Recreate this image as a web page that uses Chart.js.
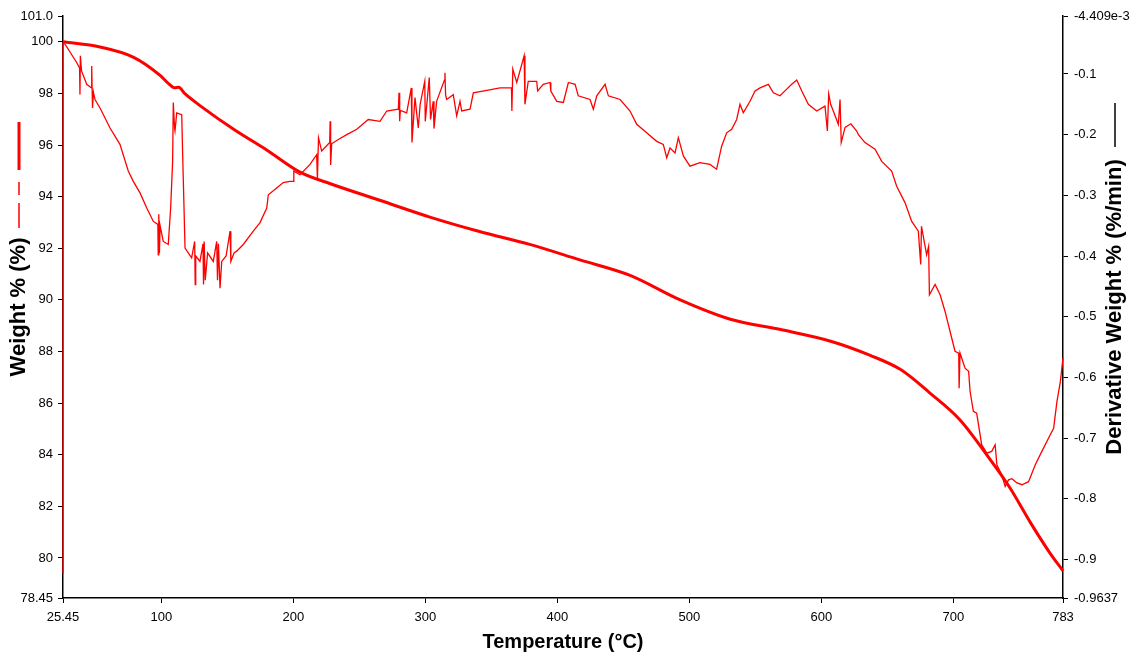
<!DOCTYPE html>
<html>
<head>
<meta charset="utf-8">
<title>TGA</title>
<script src="https://cdn.jsdelivr.net/npm/chart.js@4.4.1/dist/chart.umd.min.js"></script>
<style>
  body { margin: 0; background: #fff; }
  #tga { display: block; }
</style>
</head>
<body>
<canvas id="tga" width="1135" height="660"></canvas>
<script>
// ---- datos ----
const tempPeso = [25.45, 53.5, 79, 99, 105, 110, 113, 118, 130, 155, 180, 205, 228, 266, 304, 341, 379, 417, 455, 493, 531, 569, 607, 637, 660, 682, 705, 728, 743, 758, 773, 783];
const pesoPct = [100.0, 99.8, 99.4, 98.7, 98.4, 98.22, 98.24, 97.98, 97.5, 96.6, 95.8, 94.95, 94.5, 93.85, 93.2, 92.65, 92.15, 91.55, 90.95, 90.0, 89.25, 88.85, 88.4, 87.85, 87.3, 86.4, 85.35, 83.8, 82.7, 81.4, 80.2, 79.5];

const tempDeriv = [
  25.45, 25.45, 27.0, 35.8, 38.0, 38.3, 38.6, 39.5, 43.4, 47.0, 47.2, 47.8, 48.5, 49.7, 53.5, 61.1, 68.6, 74.9, 78.7, 83.8,
  88.9, 93.9, 97.3, 97.6, 98.0, 98.5, 99.0, 101.4, 105.2, 107.0, 108.5, 109.0, 110.0, 110.3, 111.6, 115.4, 116.1, 117.9, 122.9, 125.2,
  125.6, 126.0, 129.2, 131.5, 131.9, 132.4, 133.2, 135, 139.3, 141.9, 142.5, 143.2, 144.4, 145.7, 149, 152.0, 152.6, 155, 157, 162,
  169.6, 174.7, 179.8, 181, 187.3, 192.3, 197.4, 200.0, 200.3, 205, 212.6, 217.6, 218.2, 219.0, 221.4, 227.5, 227.8, 228.2, 229, 234,
  240.4, 248, 256.7, 265.6, 270.7, 279.5, 280.0, 280.5, 281, 285.8, 289.3, 289.8, 292.1, 294.6, 296, 299.5, 299.9, 302.9, 303.9, 305.9,
  306.5, 308.5, 314.4, 314.8, 315.3, 316.1, 321.1, 323.7, 326.2, 327.5, 333.8, 336.3, 346.5, 356.5, 365.2, 365.5, 366.2, 369.2, 374.8, 375.4,
  377.9, 384.3, 385, 389.3, 394.4, 395, 399.5, 404.5, 408.3, 413.4, 415.8, 424.7, 427.2, 429.8, 436.1, 438.6, 447.5, 455, 460.1, 467.6,
  475.2, 480.2, 482.8, 485.3, 489.1, 491.6, 495.4, 500.4, 508, 515.6, 520.6, 524.4, 528.2, 532, 535.8, 538.3, 540.8, 545.9, 549.7, 553.5,
  559.8, 563.6, 568.6, 573.7, 577.5, 581.3, 585.1, 590.1, 596.4, 602.7, 604.5, 605.5, 607, 609, 612.8, 614.1, 615.0, 617.9, 622.3, 626.7,
  628, 633, 640.6, 645.7, 653.2, 657, 663.3, 668.4, 673.4, 675.2, 675.8, 679.7, 681.2, 681.8, 686.1, 689.9, 693.6, 697.4, 701.2, 704.0,
  704.3, 705.0, 708.8, 711.5, 712.6, 715.1, 717.6, 721.4, 725.2, 729, 731.6, 732.9, 736.6, 739.2, 741.7, 744.3, 748.1, 751.9, 756.9, 762,
  767, 772.1, 775.9, 778.4, 781, 783
];
const derivPct = [
  -0.923, -0.049, -0.051, -0.081, -0.090, -0.134, -0.070, -0.095, -0.117, -0.123, -0.087, -0.156, -0.130, -0.142, -0.156, -0.189, -0.216, -0.260, -0.277, -0.296,
  -0.321, -0.343, -0.348, -0.398, -0.331, -0.395, -0.350, -0.376, -0.381, -0.321, -0.244, -0.147, -0.190, -0.194, -0.164, -0.167, -0.233, -0.387, -0.403, -0.376,
  -0.447, -0.400, -0.409, -0.380, -0.447, -0.376, -0.440, -0.395, -0.409, -0.376, -0.440, -0.380, -0.453, -0.409, -0.400, -0.359, -0.409, -0.395, -0.392, -0.381,
  -0.359, -0.345, -0.321, -0.299, -0.288, -0.279, -0.277, -0.277, -0.260, -0.266, -0.249, -0.233, -0.273, -0.205, -0.227, -0.213, -0.178, -0.250, -0.215, -0.208,
  -0.200, -0.191, -0.175, -0.178, -0.161, -0.158, -0.131, -0.178, -0.160, -0.164, -0.123, -0.213, -0.139, -0.189, -0.150, -0.112, -0.178, -0.106, -0.175, -0.145,
  -0.190, -0.145, -0.110, -0.098, -0.135, -0.142, -0.134, -0.169, -0.145, -0.161, -0.158, -0.131, -0.127, -0.123, -0.123, -0.161, -0.092, -0.114, -0.070, -0.150,
  -0.112, -0.112, -0.128, -0.117, -0.114, -0.128, -0.145, -0.147, -0.114, -0.117, -0.136, -0.142, -0.158, -0.136, -0.117, -0.136, -0.142, -0.161, -0.183, -0.197,
  -0.211, -0.216, -0.238, -0.222, -0.230, -0.205, -0.235, -0.252, -0.246, -0.249, -0.257, -0.219, -0.197, -0.191, -0.175, -0.150, -0.164, -0.145, -0.128, -0.123,
  -0.117, -0.131, -0.136, -0.125, -0.117, -0.110, -0.128, -0.150, -0.161, -0.153, -0.194, -0.133, -0.150, -0.161, -0.183, -0.142, -0.213, -0.188, -0.182, -0.194,
  -0.200, -0.213, -0.224, -0.244, -0.260, -0.285, -0.312, -0.343, -0.359, -0.414, -0.351, -0.398, -0.384, -0.464, -0.447, -0.464, -0.491, -0.524, -0.557, -0.560,
  -0.618, -0.560, -0.585, -0.590, -0.623, -0.656, -0.659, -0.711, -0.725, -0.722, -0.711, -0.744, -0.761, -0.780, -0.769, -0.767, -0.774, -0.777, -0.772, -0.744,
  -0.722, -0.700, -0.684, -0.640, -0.607, -0.568
];

// marcas de los ejes
const ticksTemp = [25.45, 100, 200, 300, 400, 500, 600, 700, 783];
const etiquetasTemp = ['25.45', '100', '200', '300', '400', '500', '600', '700', '783'];
const ticksPeso = [78.45, 80, 82, 84, 86, 88, 90, 92, 94, 96, 98, 100, 101.0];
const etiquetasPeso = ['78.45', '80', '82', '84', '86', '88', '90', '92', '94', '96', '98', '100', '101.0'];
const ticksDeriv = [-0.9637, -0.9, -0.8, -0.7, -0.6, -0.5, -0.4, -0.3, -0.2, -0.1, -0.004409];
const etiquetasDeriv = ['-0.9637', '-0.9', '-0.8', '-0.7', '-0.6', '-0.5', '-0.4', '-0.3', '-0.2', '-0.1', '-4.409e-3'];

const tituloDerecho = 'Derivative Weight % (%/min)';
const ROJO = '#ff0000';
const FUENTE = '"Liberation Sans", Arial, sans-serif';

function fijarTicks(valores) {
  return scale => { scale.ticks = valores.map(v => ({ value: v })); };
}

// título del eje derecho (se lee de abajo hacia arriba) y las muestras de línea
const decoracionEjes = {
  id: 'decoracionEjes',
  afterDraw(chart) {
    const { ctx, chartArea } = chart;
    const medioY = (chartArea.top + chartArea.bottom) / 2;
    ctx.save();
    ctx.translate(chartArea.right + 52, medioY);
    ctx.rotate(-Math.PI / 2);
    ctx.font = 'bold 22px ' + FUENTE;
    ctx.fillStyle = '#000';
    ctx.textAlign = 'center';
    ctx.textBaseline = 'middle';
    ctx.fillText(tituloDerecho, 0, 0);
    ctx.strokeStyle = '#000';
    ctx.lineWidth = 1.5;
    ctx.beginPath();
    ctx.moveTo(160, 0);
    ctx.lineTo(204, 0);
    ctx.stroke();
    ctx.restore();

    // muestras en el título izquierdo
    ctx.save();
    ctx.strokeStyle = ROJO;
    ctx.lineWidth = 3;
    ctx.beginPath();
    ctx.moveTo(19, medioY - 185);
    ctx.lineTo(19, medioY - 137);
    ctx.stroke();
    ctx.lineWidth = 1.5;
    ctx.beginPath();
    ctx.moveTo(19, medioY - 125);
    ctx.lineTo(19, medioY - 112);
    ctx.moveTo(19, medioY - 104);
    ctx.lineTo(19, medioY - 79);
    ctx.stroke();
    ctx.restore();
  }
};

new Chart(document.getElementById('tga'), {
  type: 'line',
  data: {
    datasets: [
      {
        label: 'Weight %',
        data: tempPeso.map((t, i) => ({ x: t, y: pesoPct[i] })),
        yAxisID: 'yPeso',
        borderColor: ROJO,
        borderWidth: 3,
        pointRadius: 0,
        cubicInterpolationMode: 'monotone',
        clip: 3,
      },
      {
        label: 'Derivative Weight %',
        data: tempDeriv.map((t, i) => ({ x: t, y: derivPct[i] })),
        yAxisID: 'yDeriv',
        borderColor: ROJO,
        borderWidth: 1.3,
        pointRadius: 0,
        tension: 0,
        clip: 3,
      },
    ],
  },
  options: {
    responsive: false,
    animation: false,
    devicePixelRatio: 1,
    layout: { padding: { top: 16, left: 0, right: 0, bottom: 0 } },
    plugins: { legend: { display: false }, tooltip: { enabled: false } },
    scales: {
      x: {
        type: 'linear',
        min: 25.45,
        max: 783,
        afterBuildTicks: fijarTicks(ticksTemp),
        afterFit: scale => { scale.height = 62; },
        ticks: {
          autoSkip: false,
          maxRotation: 0,
          padding: 7,
          color: '#000',
          font: { family: FUENTE, size: 13 },
          callback: (v, i) => etiquetasTemp[i],
        },
        grid: { display: true, drawOnChartArea: false, drawTicks: true, tickLength: 5, color: '#000' },
        border: { display: true, color: '#000', width: 1.5 },
        title: {
          display: true,
          text: 'Temperature (°C)',
          color: '#000',
          font: { family: FUENTE, size: 20, weight: 'bold' },
          padding: { top: 0, bottom: 6 },
        },
      },
      yPeso: {
        position: 'left',
        min: 78.45,
        max: 101.0,
        afterBuildTicks: fijarTicks(ticksPeso),
        afterFit: scale => { scale.width = 63; },
        ticks: {
          autoSkip: false,
          padding: 5,
          color: '#000',
          font: { family: FUENTE, size: 13 },
          callback: (v, i) => etiquetasPeso[i],
        },
        grid: { display: true, drawOnChartArea: false, drawTicks: true, tickLength: 5, color: '#000' },
        border: { display: true, color: '#000', width: 1.5 },
        title: {
          display: true,
          text: 'Weight % (%)',
          color: '#000',
          font: { family: FUENTE, size: 22, weight: 'bold' },
          padding: { top: 6, bottom: 0 },
        },
      },
      yDeriv: {
        position: 'right',
        min: -0.9637,
        max: -0.004409,
        afterBuildTicks: fijarTicks(ticksDeriv),
        afterFit: scale => { scale.width = 72; },
        ticks: {
          autoSkip: false,
          padding: 6,
          color: '#000',
          font: { family: FUENTE, size: 13 },
          callback: (v, i) => etiquetasDeriv[i],
        },
        grid: { display: true, drawOnChartArea: false, drawTicks: true, tickLength: 5, color: '#000' },
        border: { display: true, color: '#000', width: 1.5 },
      },
    },
  },
  plugins: [decoracionEjes],
});
</script>
</body>
</html>
